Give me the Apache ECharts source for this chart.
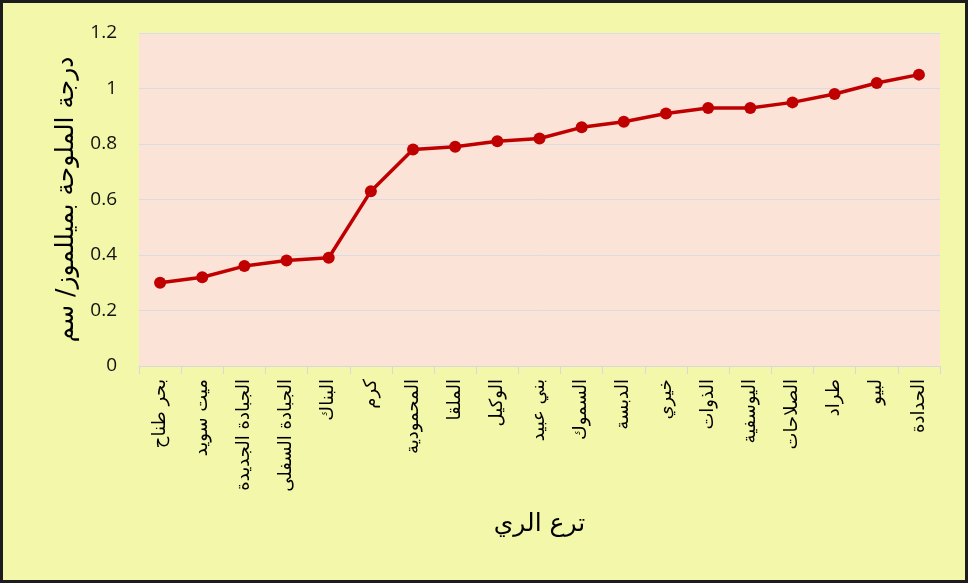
<!DOCTYPE html>
<html>
<head>
    <meta charset="utf-8">
    <title>ملوحة ترع الري</title>
    <script src="https://cdn.jsdelivr.net/npm/echarts@6/dist/echarts.min.js"></script>
    <style>
        body { margin: 0; background: #fff; }
        #frame {
            position: absolute; left: 0; top: 0;
            width: 962px; height: 577px;
            border: 3px solid #1c1c1c;
            background: #F3F7A9;
        }
        #main { width: 962px; height: 577px; }
    </style>
</head>
<body>
    <div id="frame"><div id="main"></div></div>
    <script>
        // ترع الري
        var canals = ['بحر طناح', 'ميت سويد', 'الجبادة الجديدة', 'الجبادة السفلى', 'البناك', 'كرم',
            'المحمودية', 'الملقا', 'الوكيل', 'بني عبيد', 'السموك', 'الدبسة', 'خيري', 'الذوات',
            'اليوسفية', 'الصلاحات', 'طراد', 'لبيو', 'الحدادة'];
        // درجة الملوحة
        var salinity = [0.30, 0.32, 0.36, 0.38, 0.39, 0.63, 0.78, 0.79, 0.81, 0.82,
            0.86, 0.88, 0.91, 0.93, 0.93, 0.95, 0.98, 1.02, 1.05];
        var yTicks = [0, 0.2, 0.4, 0.6, 0.8, 1, 1.2];

        var arFont = '"DejaVu Sans", sans-serif';
        var chart = echarts.init(document.getElementById('main'));
        chart.setOption({
            animation: false,
            backgroundColor: 'transparent',
            grid: {
                left: 136, right: 25, top: 30, bottom: 214,
                show: true, backgroundColor: '#FBE3D7', borderWidth: 0
            },
            xAxis: {
                type: 'category',
                data: canals,
                boundaryGap: true,
                name: 'ترع الري',
                nameLocation: 'middle',
                nameGap: 146,
                nameTextStyle: { fontFamily: arFont, fontSize: 25, color: '#000' },
                axisLine: { lineStyle: { color: '#D9D9D9', width: 1 } },
                axisTick: { show: true, length: 8, lineStyle: { color: '#D9D9D9' } },
                axisLabel: {
                    rotate: 90, interval: 0, margin: 13,
                    fontFamily: arFont, fontSize: 18, color: '#000'
                }
            },
            yAxis: {
                type: 'value',
                min: yTicks[0], max: yTicks[yTicks.length - 1], interval: 0.2,
                name: 'درجة الملوحة بميللموز/ سم',
                nameLocation: 'middle',
                nameRotate: 90,
                nameGap: 58,
                nameTextStyle: { fontFamily: arFont, fontSize: 25, color: '#000' },
                axisLine: { show: false },
                axisTick: { show: false },
                splitLine: { lineStyle: { color: '#D9DDE3', width: 1 } },
                axisLabel: {
                    margin: 22, fontSize: 19, color: '#111',
                    fontFamily: '"Open Sans", sans-serif',
                    formatter: function (v) { return String(Math.round(v * 10) / 10); }
                }
            },
            series: [{
                type: 'line',
                data: salinity,
                symbol: 'circle',
                symbolSize: 12,
                lineStyle: { color: '#C00000', width: 3.5 },
                itemStyle: { color: '#C00000' }
            }]
        });
    </script>
</body>
</html>
